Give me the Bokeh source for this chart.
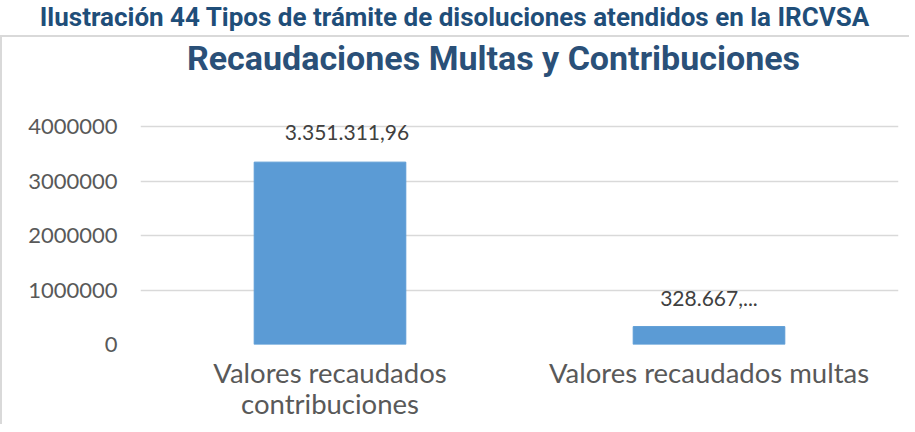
from bokeh.plotting import figure
from bokeh.models import ColumnDataSource, FixedTicker, BasicTickFormatter, Div, LabelSet
from bokeh.core.properties import value
from bokeh.layouts import column
from bokeh.embed import file_html
from bokeh.resources import INLINE

categories = ["Valores recaudados\ncontribuciones", "Valores recaudados multas"]
values = [3351311.96, 328667.0]
value_labels = ["3.351.311,96", "328.667,..."]
y_ticks = [0, 1000000, 2000000, 3000000, 4000000]
caption_text = "Ilustración 44 Tipos de trámite de disoluciones atendidos en la IRCVSA"
title_text = "Recaudaciones Multas y Contribuciones"

caption = Div(
    text=('<div style="font-family:Roboto;font-weight:bold;font-size:26px;color:#1F4E79;'
          'text-align:center;line-height:25px;white-space:nowrap;width:899px">'
          + caption_text + '</div>'),
    width=899, height=25,
)

title_div = Div(
    text=('<div style="font-family:Roboto;font-weight:bold;font-size:34px;color:#2A5078;'
          'text-align:center;line-height:46px;white-space:nowrap;width:897px;'
          'position:relative;left:38px;top:-7px">'
          + title_text + '</div>'),
    width=897, height=34,
)

src = ColumnDataSource(dict(cat=categories, val=values, lab=value_labels))
src1 = ColumnDataSource(dict(cat=categories[:1], val=values[:1], lab=value_labels[:1]))
src2 = ColumnDataSource(dict(cat=categories[1:], val=values[1:], lab=value_labels[1:]))

p = figure(x_range=categories, y_range=(0, 4300000), width=897, height=343,
           output_backend="svg", toolbar_location=None,
           min_border_left=138, min_border_right=1, min_border_top=29, min_border_bottom=80)
p.outline_line_color = None

p.vbar(x="cat", top="val", width=0.4, source=src, color="#5B9BD5")

lab_style = dict(text_align="center", text_baseline="middle", text_font=value("Lato"),
                 text_font_size="21px", text_color="#404040")
p.add_layout(LabelSet(x="cat", y="val", text="lab", source=src1, x_offset=17, y_offset=30,
                      **lab_style))
p.add_layout(LabelSet(x="cat", y="val", text="lab", source=src2, x_offset=0, y_offset=28,
                      **lab_style))

p.yaxis.ticker = FixedTicker(ticks=y_ticks)
p.yaxis.formatter = BasicTickFormatter(use_scientific=False)
p.yaxis.axis_line_color = None
p.yaxis.major_tick_line_color = None
p.yaxis.minor_tick_line_color = None
p.yaxis.major_label_text_font = "Lato"
p.yaxis.major_label_text_font_size = "22px"
p.yaxis.major_label_text_color = "#595959"
p.yaxis.major_label_standoff = 17

p.xaxis.axis_line_color = None
p.xaxis.major_tick_line_color = None
p.xaxis.major_label_text_font = "Lato"
p.xaxis.major_label_text_font_size = "27.5px"
p.xaxis.major_label_text_line_height = 0.96
p.xaxis.major_label_text_color = "#595959"
p.xaxis.major_label_standoff = 5

p.xgrid.grid_line_color = None
p.ygrid.grid_line_color = "#D9D9D9"
p.ygrid.grid_line_width = 1.5
p.x_range.range_padding = 0

box = column(title_div, p, spacing=0,
             styles={"border-left": "2px solid #d9d9d9", "border-top": "2px solid #d9d9d9"})
layout = column(caption, box, spacing=0)
open("out.html", "w").write(file_html(layout, INLINE))
